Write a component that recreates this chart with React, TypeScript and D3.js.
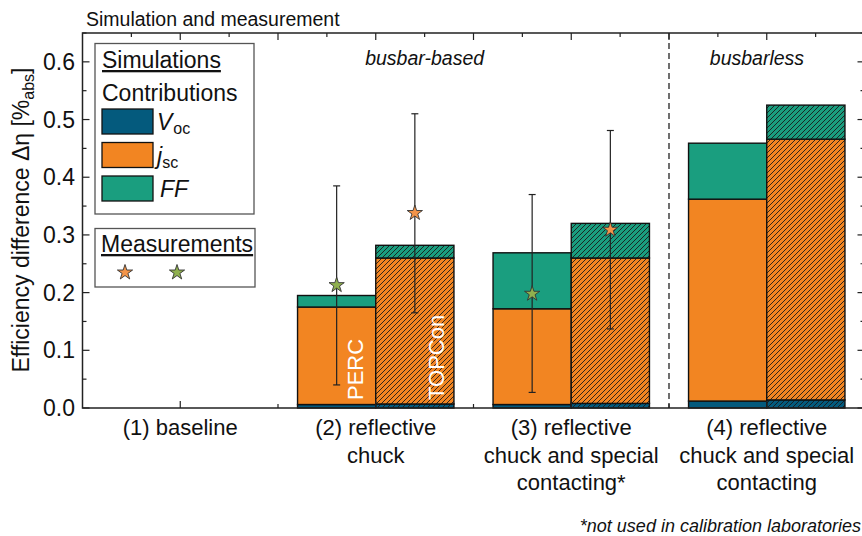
import { useEffect, useRef } from 'react';
import * as d3 from 'd3';

const categories = [
  ['(1) baseline'],
  ['(2) reflective', 'chuck'],
  ['(3) reflective', 'chuck and special', 'contacting*'],
  ['(4) reflective', 'chuck and special', 'contacting'],
];

// simulated contributions (segment heights, %abs)
const percVoc = [0, 0.006, 0.006, 0.012];
const percJsc = [0, 0.169, 0.166, 0.350];
const percFF = [0, 0.020, 0.097, 0.097];
const topVoc = [0, 0.007, 0.008, 0.014];
const topJsc = [0, 0.253, 0.252, 0.452];
const topFF = [0, 0.022, 0.060, 0.059];

// measurements with error bars
const measPerc = [null, 0.213, 0.198, null];
const measPercLow = [null, 0.040, 0.027, null];
const measPercHigh = [null, 0.385, 0.370, null];
const measTop = [null, 0.338, 0.309, null];
const measTopLow = [null, 0.165, 0.137, null];
const measTopHigh = [null, 0.510, 0.481, null];

const yTicks = [0, 0.1, 0.2, 0.3, 0.4, 0.5, 0.6];

const C_VOC = '#045a7d';
const C_JSC = '#f28522';
const C_FF = '#1a9e7f';
const C_STAR_O = '#f39449';
const C_STAR_G = '#8fb04e';
const FONT = '"Liberation Sans", Arial, sans-serif';

export default function App() {
  const svgRef = useRef<SVGSVGElement>(null);

  useEffect(() => {
    const svg = d3.select(svgRef.current);
    svg.selectAll('*').remove();
    const W = 862, H = 536;
    svg.attr('width', W).attr('height', H).attr('font-family', FONT);

    const x = d3.scaleLinear().domain([-0.5, 3.5]).range([82.5, 864.5]);
    const y = d3.scaleLinear().domain([0, 0.65]).range([408, 33]);
    const bw = x(0.4) - x(0);

    const defs = svg.append('defs');
    const pat = defs.append('pattern')
      .attr('id', 'hatch').attr('patternUnits', 'userSpaceOnUse')
      .attr('width', 5).attr('height', 5);
    pat.append('path').attr('d', 'M-1,1 l2,-2 M0,5 l5,-5 M4,6 l2,-2')
      .attr('stroke', '#1a1a1a').attr('stroke-width', 0.9);

    svg.append('text').attr('x', 86).attr('y', 26).attr('font-size', 19.5).attr('fill', '#111')
      .text('Simulation and measurement');

    // dashed divider
    svg.append('line')
      .attr('x1', x(2.5)).attr('x2', x(2.5)).attr('y1', y(0.65)).attr('y2', y(0))
      .attr('stroke', '#222').attr('stroke-width', 1.3).attr('stroke-dasharray', '6,4');

    svg.append('text').attr('x', x(1.25)).attr('y', 65).attr('text-anchor', 'middle')
      .attr('font-size', 19.5).attr('font-style', 'italic').attr('fill', '#111').text('busbar-based');
    svg.append('text').attr('x', x(2.95)).attr('y', 65).attr('text-anchor', 'middle')
      .attr('font-size', 19.5).attr('font-style', 'italic').attr('fill', '#111').text('busbarless');

    // stacked bars
    const drawStack = (vals: number[][], offset: number, hatched: boolean) => {
      categories.forEach((_, i) => {
        let base = 0;
        const x0 = x(i + offset);
        [C_VOC, C_JSC, C_FF].forEach((col, k) => {
          const v = vals[k][i];
          if (v <= 0) return;
          const y0 = y(base), y1 = y(base + v);
          svg.append('rect').attr('x', x0).attr('y', y1).attr('width', bw).attr('height', y0 - y1)
            .attr('fill', col);
          if (hatched) {
            svg.append('rect').attr('x', x0).attr('y', y1).attr('width', bw).attr('height', y0 - y1)
              .attr('fill', 'url(#hatch)');
          }
          svg.append('rect').attr('x', x0).attr('y', y1).attr('width', bw).attr('height', y0 - y1)
            .attr('fill', 'none').attr('stroke', '#111').attr('stroke-width', 1.4);
          base += v;
        });
      });
    };
    drawStack([percVoc, percJsc, percFF], -0.4, false);
    drawStack([topVoc, topJsc, topFF], 0, true);

    // PERC / TOPCon labels
    svg.append('text').attr('transform', `translate(${x(1) - 13},400) rotate(-90)`)
      .attr('font-size', 22).attr('fill', 'white').text('PERC');
    svg.append('text').attr('transform', `translate(${x(1.4) - 10},400) rotate(-90)`)
      .attr('font-size', 22).attr('fill', 'white').text('TOPCon');

    // measurements
    const star = d3.symbol().type(d3.symbolStar).size(72);
    const drawMeas = (m: (number | null)[], lo: (number | null)[], hi: (number | null)[], offset: number, col: string) => {
      m.forEach((v, i) => {
        if (v == null) return;
        const cx = x(i + offset);
        svg.append('line').attr('x1', cx).attr('x2', cx).attr('y1', y(hi[i]!)).attr('y2', y(lo[i]!))
          .attr('stroke', '#222').attr('stroke-width', 1.2);
        [hi[i]!, lo[i]!].forEach(e => {
          svg.append('line').attr('x1', cx - 3.5).attr('x2', cx + 3.5).attr('y1', y(e)).attr('y2', y(e))
            .attr('stroke', '#222').attr('stroke-width', 1.2);
        });
        svg.append('path').attr('d', star()).attr('transform', `translate(${cx},${y(v)})`)
          .attr('fill', col).attr('stroke', '#333').attr('stroke-width', 0.9);
      });
    };
    drawMeas(measPerc, measPercLow, measPercHigh, -0.2, C_STAR_G);
    drawMeas(measTop, measTopLow, measTopHigh, 0.2, C_STAR_O);

    // frame
    svg.append('rect').attr('x', x(-0.5)).attr('y', y(0.65)).attr('width', x(3.5) - x(-0.5))
      .attr('height', y(0) - y(0.65)).attr('fill', 'none').attr('stroke', '#222').attr('stroke-width', 1.5);

    // y ticks (left & right, inward)
    d3.range(0, 0.651, 0.05).forEach((t, j) => {
      const major = j % 2 === 0;
      const len = major ? 7 : 4;
      svg.append('line').attr('x1', x(-0.5)).attr('x2', x(-0.5) + len).attr('y1', y(t)).attr('y2', y(t))
        .attr('stroke', '#222').attr('stroke-width', 1.2);
      svg.append('line').attr('x1', x(3.5)).attr('x2', x(3.5) - len).attr('y1', y(t)).attr('y2', y(t))
        .attr('stroke', '#222').attr('stroke-width', 1.2);
    });
    yTicks.forEach(t => {
      svg.append('text').attr('x', 75).attr('y', y(t) + 8).attr('text-anchor', 'end')
        .attr('font-size', 23).attr('fill', '#111').text(t.toFixed(1));
    });

    // x ticks
    d3.range(-0.25, 3.5, 0.25).forEach(t => {
      const q = Math.round(t * 4);
      const topLen = q % 2 === 0 ? 7 : 4;
      svg.append('line').attr('x1', x(t)).attr('x2', x(t)).attr('y1', y(0.65)).attr('y2', y(0.65) + topLen)
        .attr('stroke', '#222').attr('stroke-width', 1.2);
      if (q % 2 === 0) {
        const botLen = q % 4 === 0 ? 7 : 4;
        svg.append('line').attr('x1', x(t)).attr('x2', x(t)).attr('y1', y(0)).attr('y2', y(0) - botLen)
          .attr('stroke', '#222').attr('stroke-width', 1.2);
      }
    });

    // category labels
    categories.forEach((lines, i) => {
      lines.forEach((ln, k) => {
        svg.append('text').attr('x', x(i)).attr('y', 435 + k * 27.5).attr('text-anchor', 'middle')
          .attr('font-size', 22).attr('fill', '#111').text(ln);
      });
    });

    svg.append('text').attr('x', 861).attr('y', 532).attr('text-anchor', 'end')
      .attr('font-size', 18).attr('font-style', 'italic').attr('fill', '#111')
      .text('*not used in calibration laboratories');

    // y label
    const yl = svg.append('text').attr('transform', `translate(29,220) rotate(-90)`)
      .attr('text-anchor', 'middle').attr('font-size', 23).attr('fill', '#111');
    yl.append('tspan').text('Efficiency difference Δη [%');
    yl.append('tspan').attr('font-size', 16).attr('dy', 5).text('abs');
    yl.append('tspan').attr('dy', -5).text(']');

    // legend: simulations
    svg.append('rect').attr('x', 95).attr('y', 43.5).attr('width', 159).attr('height', 170.5)
      .attr('fill', 'white').attr('stroke', '#555').attr('stroke-width', 1.3);
    svg.append('text').attr('x', 102).attr('y', 68).attr('font-size', 23).attr('fill', '#111')
      .attr('text-decoration', 'underline').text('Simulations');
    svg.append('text').attr('x', 102).attr('y', 101).attr('font-size', 23).attr('fill', '#111')
      .text('Contributions');
    const leg = [
      { col: C_VOC, main: 'V', sub: 'oc' },
      { col: C_JSC, main: 'j', sub: 'sc' },
      { col: C_FF, main: 'FF', sub: '' },
    ];
    leg.forEach((d, k) => {
      const ly = 109 + k * 33.5;
      svg.append('rect').attr('x', 102).attr('y', ly).attr('width', 51).attr('height', 25)
        .attr('fill', d.col).attr('stroke', '#111').attr('stroke-width', 1.3);
      const t = svg.append('text').attr('x', d.main === 'FF' ? 160 : 157).attr('y', ly + 21)
        .attr('font-size', 23).attr('fill', '#111');
      t.append('tspan').attr('font-style', 'italic').text(d.main);
      if (d.sub) t.append('tspan').attr('font-size', 16).attr('dy', 4).attr('dx', d.main === 'V' ? 1 : 0).text(d.sub);
    });

    // legend: measurements
    svg.append('rect').attr('x', 95).attr('y', 228.5).attr('width', 160).attr('height', 58.5)
      .attr('fill', 'white').attr('stroke', '#555').attr('stroke-width', 1.3);
    svg.append('text').attr('x', 101).attr('y', 252).attr('font-size', 23).attr('fill', '#111')
      .attr('text-decoration', 'underline').text('Measurements');
    [[125, C_STAR_O], [177, C_STAR_G]].forEach(([sx, col]) => {
      svg.append('path').attr('d', star()).attr('transform', `translate(${sx},272.5)`)
        .attr('fill', col as string).attr('stroke', '#333').attr('stroke-width', 0.9);
    });
  }, []);

  return (
    <svg
      ref={svgRef}
      style={{ position: 'absolute', left: 0, top: 0, background: 'white' }}
      role="img"
      aria-label="Simulation and measurement of efficiency difference"
    />
  );
}
